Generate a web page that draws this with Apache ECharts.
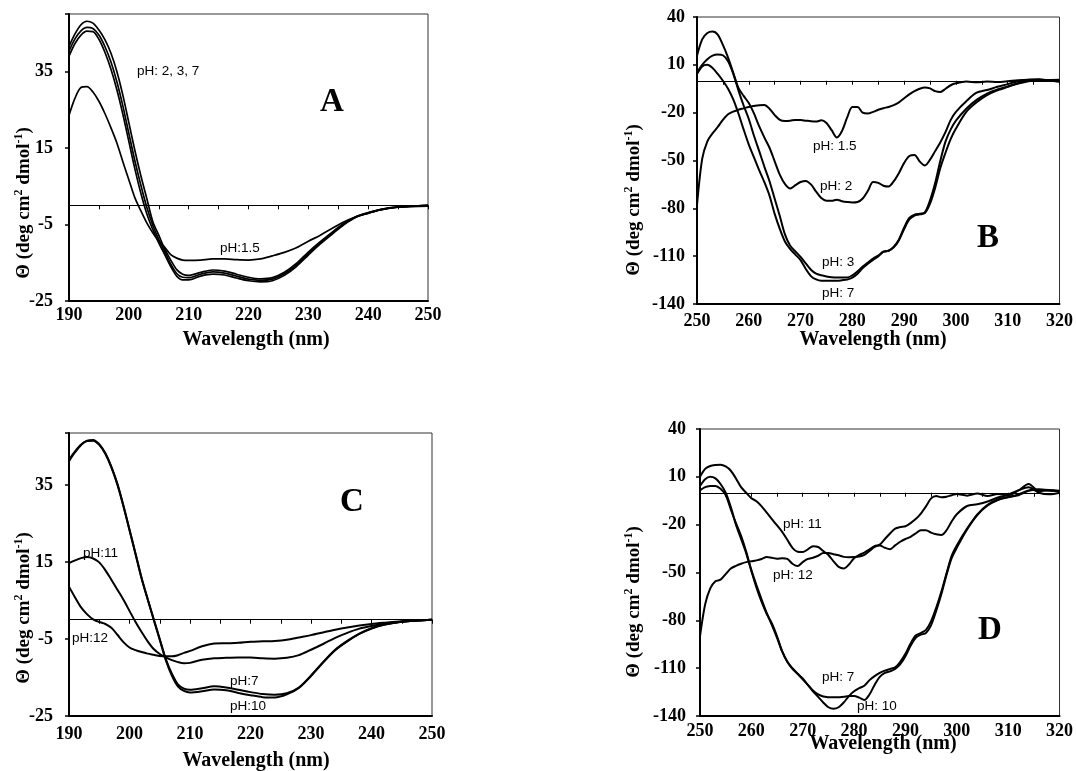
<!DOCTYPE html>
<html>
<head>
<meta charset="utf-8">
<title>CD spectra at different pH</title>
<script src="https://cdn.jsdelivr.net/npm/echarts@6/dist/echarts.min.js"></script>
<style>
  html, body { margin: 0; padding: 0; background: #fff; }
  #chart { width: 1076px; height: 771px; }
</style>
</head>
<body>
<div id="chart"></div>
<script>
// wavelength grids (nm)
const farUV = [190, 191, 192, 193, 194, 195, 196, 197, 198, 199, 200, 201, 202, 203, 204, 205, 206, 207, 208, 209, 210,
  212, 214, 216, 218, 220, 222, 224, 226, 228, 230, 232, 234, 236, 238, 240, 242, 245, 250];
const nearUV = [250, 251, 252, 253, 254, 255, 256, 257, 258, 259, 260, 261, 262, 263, 264, 265, 266, 267, 268, 269, 270,
  271, 272, 273, 274, 275, 276, 277, 278, 279, 280, 281, 282, 283, 284, 285, 286, 287, 288, 289, 290,
  291, 292, 293, 294, 295, 296, 297, 298, 299, 300, 302, 304, 306, 308, 310, 312, 314, 316, 318, 320];

// panel A : far-UV, acid pH
const aPh15 = [23.5, 28, 30.8, 31, 29.6, 27.2, 24, 20.3, 16.3, 11.4, 6.7, 2, -1.4, -4.6, -7.2, -9.4, -11, -12.9, -13.8, -14.3, -14.4,
  -14.3, -14, -14, -14.2, -14.3, -14, -13.2, -12.3, -11.1, -9.4, -7.8, -6, -4.3, -3, -2, -1.2, -0.5, -0.2];
const aPh2 = [41.5, 44.8, 47.2, 48.1, 47.6, 45.8, 43.3, 39.8, 35, 28.8, 21.6, 14.4, 7.8, 1.8, -4.2, -7.8, -11.4, -14.3, -16.8, -18, -18.3,
  -17.5, -16.9, -17.2, -18, -18.8, -19.2, -18.9, -17.5, -15.2, -12.2, -9.5, -7, -4.6, -2.9, -1.9, -1.1, -0.4, 0];
const aPh3 = [40.3, 43.5, 45.6, 46.5, 46.2, 44.5, 41.5, 37.5, 32.3, 26, 18.8, 11.7, 5.3, -0.5, -5.2, -8.9, -12.1, -15.3, -17.8, -18.8, -18.9,
  -18, -17.4, -17.7, -18.5, -19.3, -19.6, -19.3, -17.9, -15.6, -12.6, -9.8, -7.3, -4.8, -3, -2, -1.1, -0.4, 0];
const aPh7 = [39, 42.3, 44.5, 45.5, 45.4, 43.4, 40, 35.6, 30.2, 23.8, 16.7, 9.6, 3.2, -2.2, -6.3, -9.8, -12.9, -16, -18.5, -19.5, -19.5,
  -18.5, -18, -18.2, -19, -19.7, -20, -19.7, -18.3, -16, -13, -10.1, -7.5, -5, -3.1, -2.1, -1.2, -0.5, 0];

// panel B : near-UV, acid pH
const bPh15 = [-78, -49, -38, -33, -29, -24.5, -21, -19.3, -18.2, -17.3, -16.4, -15.8, -15.3, -15.2, -17.5, -21.5, -24.5, -25.2, -25, -24.6, -24.6,
  -25, -25.4, -25.6, -24.8, -26.5, -31, -35.5, -31.5, -23, -16.5, -16.5, -20, -20.5, -19.5, -18.2, -17.2, -16.4, -15.3, -13.5, -11,
  -8.5, -6.5, -5, -4.2, -4.8, -6.5, -7, -5, -2.8, -1.6, -0.5, -1, -0.4, -0.8, -0.3, 0.4, 0.6, 0.6, 0.5, 0.6];
const bPh2 = [15.7, 26, 30, 30.9, 29, 22.5, 14.5, 5, -4.5, -9.5, -14, -20.5, -28.5, -35.5, -42, -50.5, -59, -64.8, -67.5, -65.5, -63.5,
  -62.8, -65, -69.5, -73.5, -75.2, -75.3, -74.6, -75.5, -76, -76.3, -76, -73.8, -69, -63.5, -64, -65.8, -66.3, -63, -57.8, -51.5,
  -47.2, -46.5, -50.6, -53.1, -49.5, -44, -38.5, -32, -24.5, -19.5, -12.8, -7.5, -5.8, -3.8, -2.1, -0.3, 0.7, 1, 0.3, -0.4];
const bPh3 = [5.2, 10, 13.5, 15.8, 16.5, 16, 12.3, 4.5, -6, -15.5, -24, -34.5, -44, -53.8, -63, -74, -85, -96.5, -103.5, -107, -110.5,
  -114.5, -118.5, -121, -122, -122.7, -123.2, -123.4, -123.4, -123.4, -122, -119.5, -116.5, -114, -111.5, -109.6, -107.2, -106.6, -104, -99.5, -92,
  -86, -84, -83.4, -82.5, -75, -64, -50, -38, -30.5, -25, -17.5, -12, -8, -5.5, -3.5, -1.5, 0, 0.5, 0, -0.3];
const bPh7 = [4.2, 9, 10, 8, 4.3, 0, -5, -11.7, -20.5, -30.5, -40, -48, -56, -63.5, -72, -83.5, -93, -101, -105.6, -109, -112.5,
  -118, -122.5, -124.6, -125.4, -125.4, -125.4, -125.4, -125.1, -124.7, -123.5, -121, -117.5, -114.8, -112.3, -110.2, -107.2, -106.6, -104.5, -100, -93,
  -87, -84.5, -83.8, -83, -77, -67, -54.5, -45, -36.5, -30, -19.5, -13.5, -9, -6, -3.8, -1.8, -0.3, 0.3, 0, -0.5];

// panel C : far-UV, alkaline pH
const cPh7 = [41.5, 43.7, 45.5, 46.4, 46.5, 45.4, 43.1, 39.6, 35.1, 29.5, 23.3, 17.1, 10.8, 5.4, 0.2, -5, -10.2, -14, -16.8, -17.9, -18.2,
  -17.8, -17.3, -17.6, -18.2, -18.8, -19.3, -19.5, -19.1, -17.6, -14.5, -11, -7.8, -5.5, -3.6, -2.2, -1.3, -0.5, 0];
const cPh10 = [41.2, 43.5, 45.4, 46.5, 46.7, 45.6, 43.3, 39.8, 35.3, 29.6, 23.4, 17.1, 10.8, 5.3, 0, -5.2, -10.5, -14.5, -17.3, -18.5, -18.9,
  -18.6, -18.1, -18.3, -19, -19.6, -20.1, -20.2, -19.4, -17.7, -14.6, -11.1, -7.9, -5.6, -3.7, -2.3, -1.3, -0.5, 0];
const cPh11 = [14.7, 15.4, 16, 16.3, 15.9, 14.9, 12.9, 10.4, 7.8, 5.2, 2.3, -0.6, -3.2, -5.6, -7.6, -8.9, -9.8, -10.5, -11, -11.3, -11.2,
  -10.4, -10, -9.9, -9.8, -9.8, -10, -10.1, -9.9, -9.2, -7.8, -6.3, -4.7, -3.4, -2.3, -1.6, -1.1, -0.5, 0];
const cPh12 = [8.6, 5.8, 3.2, 1.4, 0.1, -0.6, -1.1, -2.1, -3.9, -5.8, -7.2, -7.9, -8.4, -8.8, -9.1, -9.4, -9.5, -9.5, -9.2, -8.6, -8.1,
  -6.9, -6.2, -6.1, -6, -5.7, -5.6, -5.5, -5.2, -4.6, -4, -3.3, -2.6, -2, -1.5, -1.1, -0.8, -0.4, 0];

// panel D : near-UV, alkaline pH
const dPh7 = [4.2, 8.5, 10, 9, 5.5, 0, -9, -20, -29, -38, -49, -59.5, -68.5, -76, -82, -90, -99.5, -106, -110, -113.5, -117,
  -120.5, -124.5, -128, -131.5, -134.5, -135.5, -134.5, -131.5, -127.5, -124.5, -122.5, -121, -117.5, -115, -113, -111.5, -110.5, -109.5, -106, -101,
  -94.5, -89.5, -88, -86, -80.5, -72, -62, -50.5, -39.5, -33, -22.5, -13.5, -7.5, -4.2, -2.7, -1.5, 1.2, 2.1, 1.5, 1.1];
const dPh10 = [1.5, 3.5, 4.2, 4.3, 2.5, -1.5, -10.5, -19, -27, -37, -48.5, -58, -67, -75.5, -83, -91, -99.5, -106, -110.5, -113.5, -116.5,
  -120.5, -124, -126.5, -127.8, -128.2, -128.3, -128.2, -128, -127.5, -127.5, -128.5, -130, -126.5, -120.5, -115.5, -113, -112, -110.5, -107.5, -102.5,
  -96, -91, -89, -88, -83, -74, -63.5, -51.5, -41, -34.5, -23, -14, -8, -4.5, -2.8, -1, 1.5, 2, 1.8, 1.3];
const dPh11 = [10, 15, 16.8, 17.4, 17.6, 16.5, 13.8, 9, 3.5, 0, -3.4, -5.3, -8.5, -12.5, -16.5, -20.5, -24.5, -29.5, -34.5, -37, -37.2,
  -35.5, -33.5, -34, -36.5, -39, -43, -46.5, -47.5, -45, -41, -39, -37.5, -35.5, -33.5, -32.5, -29, -25.5, -22.5, -21.5, -21,
  -19, -16.5, -13, -8.5, -3.5, -2, -2.8, -2.5, -1.5, -0.8, -1.8, -0.4, -2, -0.8, -1.5, 1.5, 5.5, 1, 1.5, 1];
const dPh12 = [-90, -70, -60, -55.5, -54.5, -51, -47.5, -45.8, -44.5, -43.5, -43, -42.4, -41.5, -40.3, -40.8, -41.3, -41, -41.5, -44.5, -46, -43.5,
  -41.5, -40.7, -39.5, -37.8, -37.8, -38.5, -39.2, -40.2, -40.4, -40.3, -40, -39, -36.5, -34, -33, -34.5, -35.4, -33, -30.7, -29,
  -27.6, -25.5, -23.5, -23.5, -25, -26, -26.5, -23.5, -18, -13.5, -8.3, -7.2, -5.5, -3, -1.2, 1.5, 3.4, 0, -1, 0];

const farTicks = [190, 250];
const nearTicks = [250, 320];

const serif = '"Liberation Serif", "Times New Roman", serif';
const sans = '"Liberation Sans", Arial, sans-serif';

const panels = [
  {
    grid: { left: 69, top: 14, width: 359, height: 287 },
    xRange: farTicks, yMin: -25, yMax: 50, yStep: 20, xMargin: 5, yMargin: 16,
    curves: [[farUV, aPh15], [farUV, aPh2], [farUV, aPh3], [farUV, aPh7]],
    lineWidth: 1.7,
    letter: ['A', 332, 102],
    yName: [24, 203], xName: [256, 340],
    notes: [['pH: 2, 3, 7', 137, 71], ['pH:1.5', 220, 248]]
  },
  {
    grid: { left: 697, top: 17, width: 363, height: 287 },
    xRange: nearTicks, yMin: -140, yMax: 40, yStep: 30, xMargin: 8, yMargin: 12,
    curves: [[nearUV, bPh15], [nearUV, bPh2], [nearUV, bPh3], [nearUV, bPh7]],
    lineWidth: 2,
    letter: ['B', 988, 238],
    yName: [634, 200], xName: [873, 340],
    notes: [['pH: 1.5', 813, 146], ['pH: 2', 820, 186], ['pH: 3', 822, 262], ['pH: 7', 822, 293]]
  },
  {
    grid: { left: 69, top: 433, width: 363, height: 283 },
    xRange: farTicks, yMin: -25, yMax: 48.5, yStep: 20, xMargin: 9, yMargin: 16,
    curves: [[farUV, cPh7], [farUV, cPh10], [farUV, cPh11], [farUV, cPh12]],
    lineWidth: 2,
    letter: ['C', 352, 502],
    yName: [24, 608], xName: [256, 761],
    notes: [['pH:11', 83, 553], ['pH:12', 72, 638], ['pH:7', 230, 681], ['pH:10', 230, 706]]
  },
  {
    grid: { left: 700, top: 429, width: 362, height: 287 },
    xRange: nearTicks, yMin: -140, yMax: 40, yStep: 30, xMargin: 6, yMargin: 14,
    curves: [[nearUV, dPh7], [nearUV, dPh10], [nearUV, dPh11], [nearUV, dPh12]],
    lineWidth: 2,
    letter: ['D', 990, 630],
    yName: [634, 602], xName: [883, 744],
    notes: [['pH: 11', 783, 524], ['pH: 12', 773, 575], ['pH: 7', 822, 677], ['pH: 10', 857, 706]]
  }
];

function pairs (xs, ys) {
  return xs.map((x, i) => [x, ys[i]]);
}

const option = {
  animation: false,
  backgroundColor: '#fff',
  grid: [],
  xAxis: [],
  yAxis: [],
  series: [],
  graphic: []
};

panels.forEach((p, i) => {
  option.grid.push(Object.assign({ show: true, borderColor: '#333', borderWidth: 1 }, p.grid));
  // bottom axis with the labels
  option.xAxis.push({
    gridIndex: i,
    type: 'value',
    min: p.xRange[0],
    max: p.xRange[1],
    interval: 10,
    position: 'bottom',
    axisLine: { onZero: false, lineStyle: { color: '#000', width: 2 } },
    axisTick: { show: false },
    splitLine: { show: false },
    axisLabel: { color: '#000', fontFamily: serif, fontWeight: 'bold', fontSize: 18, margin: p.xMargin }
  });
  // zero line with small ticks
  option.xAxis.push({
    gridIndex: i,
    type: 'value',
    min: p.xRange[0],
    max: p.xRange[1],
    interval: 5,
    position: 'top',
    axisLine: { onZero: true, lineStyle: { color: '#000', width: 1 } },
    axisTick: { show: true, inside: true, length: 4, lineStyle: { color: '#000', width: 1 } },
    axisLabel: { show: false },
    splitLine: { show: false }
  });
  option.yAxis.push({
    gridIndex: i,
    type: 'value',
    min: p.yMin,
    max: p.yMax,
    interval: p.yStep,
    axisLine: { onZero: false, lineStyle: { color: '#000', width: 2 } },
    axisTick: { show: true, length: 4, lineStyle: { color: '#000', width: 1.5 } },
    splitLine: { show: false },
    axisLabel: {
      color: '#000',
      fontFamily: serif,
      fontWeight: 'bold',
      fontSize: 18,
      margin: p.yMargin,
      formatter: (v) => ((v - p.yMin) % p.yStep === 0 ? String(v) : '')
    }
  });
  p.curves.forEach((c) => {
    option.series.push({
      type: 'line',
      xAxisIndex: 2 * i,
      yAxisIndex: i,
      data: pairs(c[0], c[1]),
      showSymbol: false,
      symbol: 'none',
      smooth: 0.3,
      silent: true,
      lineStyle: { color: '#000', width: p.lineWidth }
    });
  });

  option.graphic.push({
    type: 'text',
    x: p.letter[1],
    y: p.letter[2],
    style: { text: p.letter[0], font: 'bold 33px ' + serif, fill: '#000', align: 'center', verticalAlign: 'middle' }
  });
  option.graphic.push({
    type: 'text',
    x: p.yName[0],
    y: p.yName[1],
    rotation: Math.PI / 2,
    style: {
      text: 'Θ (deg cm{s|2} dmol{s|-1})',
      font: 'bold 19px ' + serif,
      fill: '#000',
      align: 'center',
      verticalAlign: 'middle',
      rich: {
        s: { font: 'bold 12px ' + serif, fill: '#000', verticalAlign: 'top', lineHeight: 22 }
      }
    }
  });
  option.graphic.push({
    type: 'text',
    x: p.xName[0],
    y: p.xName[1],
    style: { text: 'Wavelength (nm)', font: 'bold 20px ' + serif, fill: '#000', align: 'center', verticalAlign: 'middle' }
  });
  p.notes.forEach((n) => {
    option.graphic.push({
      type: 'text',
      x: n[1],
      y: n[2],
      style: { text: n[0], font: '13.5px ' + sans, fill: '#000', align: 'left', verticalAlign: 'middle' }
    });
  });
});

const chart = echarts.init(document.getElementById('chart'));
chart.setOption(option);
window.addEventListener('resize', () => chart.resize());
</script>
</body>
</html>
